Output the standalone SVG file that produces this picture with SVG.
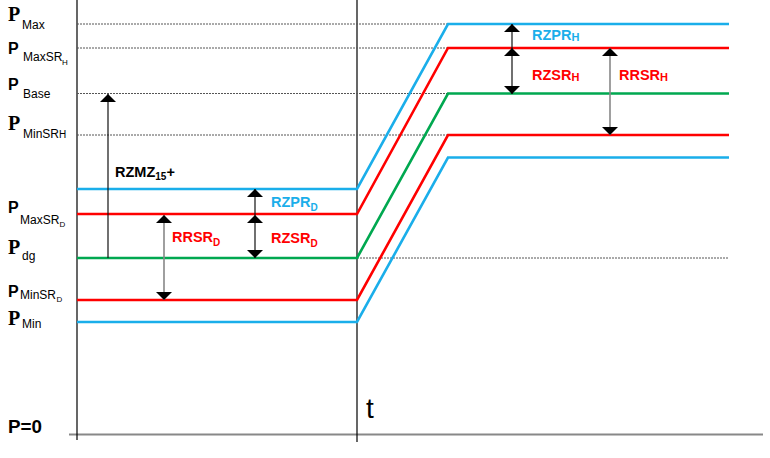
<svg xmlns="http://www.w3.org/2000/svg" width="770" height="458" viewBox="0 0 770 458">
<style>
.bg{fill:#fff}
.axis{stroke:#000;stroke-width:1.2;fill:none}
.haxis{stroke:#888;stroke-width:2;fill:none}
.dot{stroke:#555;stroke-width:1;stroke-dasharray:2,1;fill:none}
.blue{stroke:#1aaeea;stroke-width:2.6;fill:none}
.red{stroke:#ff0000;stroke-width:2.6;fill:none}
.green{stroke:#00a850;stroke-width:2.6;fill:none}
.arr{stroke:#111;stroke-width:1.2;fill:none}
.arrg{stroke:#888;stroke-width:1.6;fill:none}
.pt{font-family:"Liberation Serif",serif;font-weight:bold;font-size:20px;fill:#000}
.ps{font-family:"Liberation Sans",sans-serif;font-weight:bold;font-size:16px;fill:#000}
.sub{font-family:"Liberation Sans",sans-serif;font-size:12px;fill:#000}
.subs{font-family:"Liberation Sans",sans-serif;font-size:8px;fill:#000}
.lbl{font-family:"Liberation Sans",sans-serif;font-weight:bold;font-size:14.5px}
.lsub{font-size:10px}
.tb{fill:#1aaeea}
.tr{fill:#ff0000}
.tk{fill:#000}
</style>
<defs>
<marker id="ah" viewBox="0 0 8 16" refX="8" refY="8" markerWidth="8" markerHeight="16" markerUnits="userSpaceOnUse" orient="auto-start-reverse">
<path d="M0,0 L8,8 L0,16 z" fill="#000"/>
</marker>
</defs>
<rect class="bg" x="0" y="0" width="770" height="458"/>

<g id="axes">
<line class="haxis" x1="69" y1="434.5" x2="763" y2="434.5"/>
<line class="axis" x1="77" y1="0" x2="77" y2="440"/>
<line class="axis" x1="357" y1="0" x2="357" y2="442"/>
</g>

<g id="guides">
<line class="dot" x1="77" y1="24" x2="448" y2="24"/>
<line class="dot" x1="77" y1="48" x2="448" y2="48"/>
<line class="dot" x1="77" y1="93.5" x2="448" y2="93.5"/>
<line class="dot" x1="77" y1="135" x2="448" y2="135"/>
<line class="dot" x1="357" y1="258" x2="729" y2="258"/>
</g>

<g id="curves">
<polyline id="pmax" class="blue" points="77,189 357,189 448,24 729,24"/>
<polyline id="pmaxsr" class="red" points="77,214 357,214 448,48 729,48"/>
<polyline id="pbase" class="green" points="77,258 357,258 448,93.5 729,93.5"/>
<polyline id="pminsr" class="red" points="77,300 357,300 448,135 729,135"/>
<polyline id="pmin" class="blue" points="77,322 357,322 448,157.5 729,157.5"/>
</g>

<g id="connectors">
<line class="arr" x1="108" y1="258" x2="108" y2="94" marker-end="url(#ah)"/>
<line class="arrg" x1="164" y1="215" x2="164" y2="300" marker-start="url(#ah)" marker-end="url(#ah)"/>
<line class="arr" x1="255" y1="215" x2="255" y2="189" marker-end="url(#ah)"/>
<line class="arr" x1="255" y1="215" x2="255" y2="258" marker-start="url(#ah)" marker-end="url(#ah)"/>
<line class="arr" x1="512" y1="48" x2="512" y2="24" marker-end="url(#ah)"/>
<line class="arr" x1="512" y1="48" x2="512" y2="94" marker-start="url(#ah)" marker-end="url(#ah)"/>
<line class="arrg" x1="610" y1="48" x2="610" y2="135" marker-start="url(#ah)" marker-end="url(#ah)"/>
</g>

<g id="ylabels">
<g id="l-pmax"><text class="pt" x="8" y="21">P</text><text class="sub" x="22" y="29">Max</text></g>
<g id="l-pmaxsrh"><text class="ps" x="8" y="54">P</text><text class="sub" x="23" y="61">MaxSR</text><text class="subs" x="62" y="65">H</text></g>
<g id="l-pbase"><text class="ps" x="8" y="90">P</text><text class="sub" x="23" y="98">Base</text></g>
<g id="l-pminsrh"><text class="pt" x="8" y="130">P</text><text class="sub" x="23" y="138">MinSR</text><text class="sub" x="59" y="138" style="font-size:10px">H</text></g>
<g id="l-pmaxsrd"><text class="ps" x="8" y="213">P</text><text class="sub" x="20" y="224">MaxSR</text><text class="subs" x="59.5" y="227">D</text></g>
<g id="l-pdg"><text class="pt" x="8" y="254">P</text><text class="sub" x="22" y="260">dg</text></g>
<g id="l-pminsrd"><text class="ps" x="8" y="297">P</text><text class="sub" x="20" y="298.5">MinSR</text><text class="subs" x="56.5" y="302">D</text></g>
<g id="l-pmin"><text class="pt" x="8" y="325">P</text><text class="sub" x="22" y="328">Min</text></g>
<g id="l-p0"><text class="ps" x="8" y="433" style="font-size:18px" textLength="34" lengthAdjust="spacingAndGlyphs">P=0</text></g>
<g id="l-t"><text x="366" y="418" style="font-family:'Liberation Sans',sans-serif;font-size:28px;fill:#000">t</text></g>
</g>

<g id="rlabels">
<g id="l-rzmz"><text class="lbl tk" x="115" y="177">RZMZ<tspan class="lsub" dy="3">15</tspan><tspan dy="-3">+</tspan></text></g>
<g id="l-rrsrd"><text class="lbl tr" x="172" y="242">RRSR<tspan class="lsub" dy="3.5">D</tspan></text></g>
<g id="l-rzprd"><text class="lbl tb" x="271" y="207">RZPR<tspan class="lsub" dy="3.5">D</tspan></text></g>
<g id="l-rzsrd"><text class="lbl tr" x="271" y="243">RZSR<tspan class="lsub" dy="3.5">D</tspan></text></g>
<g id="l-rzprh"><text class="lbl tb" x="532" y="40">RZPR<tspan style="font-size:11px" dy="1">H</tspan></text></g>
<g id="l-rzsrh"><text class="lbl tr" x="532" y="80">RZSR<tspan style="font-size:11px" dy="1">H</tspan></text></g>
<g id="l-rrsrh"><text class="lbl tr" x="619" y="80">RRSR<tspan style="font-size:11px" dy="1">H</tspan></text></g>
</g>
</svg>
